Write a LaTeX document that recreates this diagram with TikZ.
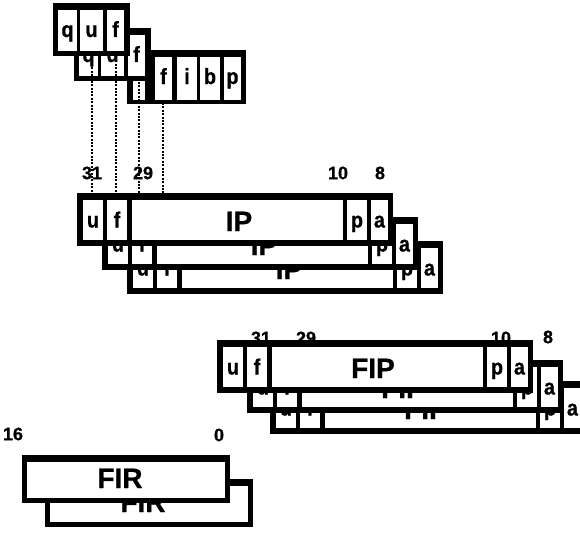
\documentclass[tikz,border=0pt]{standalone}
\usepackage{fontspec}
\setmainfont{Liberation Sans}
\newfontfamily\cellfont{Liberation Sans}[FakeStretch=0.9, FakeBold=0.8]
\newfontfamily\bigfont{Liberation Sans}[FakeBold=0.8]
\tikzset{
  celltxt/.style={anchor=base, inner sep=0pt, font=\cellfont\bfseries\fontsize{22}{22}\selectfont},
  bigtxt/.style={anchor=base, inner sep=0pt, font=\bigfont\bfseries\fontsize{28}{28}\selectfont},
  numtxt/.style={anchor=center, inner sep=0pt, font=\bigfont\bfseries\fontsize{18}{18}\selectfont},
  frame/.style={fill=black},
  cell/.style={fill=white},
  bitline/.style={line width=2pt, dash pattern=on 2pt off 1.4pt},
}
% wide register: name, x, y, big text, big text centre (relative x)
\newcommand\wreg[5]{%
  \fill[frame] (#2,#3) rectangle ++(316,53);
  \fill[cell] (#2+6,#3+7) rectangle (#2+26,#3+47);
  \fill[cell] (#2+30,#3+7) rectangle (#2+50,#3+47);
  \fill[cell] (#2+55,#3+7) rectangle (#2+266,#3+47);
  \fill[cell] (#2+270,#3+7) rectangle (#2+290,#3+47);
  \fill[cell] (#2+294,#3+7) rectangle (#2+311,#3+47);
  \node[celltxt] (#1u) at (#2+16,#3+34.5) {u};
  \node[celltxt] (#1f) at (#2+40,#3+34.5) {f};
  \node[bigtxt] (#1n) at (#2+#5,#3+38) {#4};
  \node[celltxt] (#1p) at (#2+280,#3+34.5) {p};
  \node[celltxt] (#1a) at (#2+302.5,#3+34.5) {a};
}
% small q u f register: name, x, y
\newcommand\qreg[3]{%
  \fill[frame] (#2,#3) rectangle ++(77,53);
  \fill[cell] (#2+5,#3+7) rectangle (#2+24,#3+48);
  \fill[cell] (#2+27,#3+7) rectangle (#2+50,#3+48);
  \fill[cell] (#2+54,#3+7) rectangle (#2+71,#3+48);
  \node[celltxt] (#1q) at (#2+14.5,#3+34) {q};
  \node[celltxt] (#1u) at (#2+38.5,#3+34) {u};
  \node[celltxt] (#1f) at (#2+62.5,#3+34) {f};
}
% FIR register: name, x, y
\newcommand\firreg[3]{%
  \fill[frame] (#2,#3) rectangle ++(208,48);
  \fill[cell] (#2+5,#3+7) rectangle (#2+203,#3+43);
  \node[bigtxt] (#1n) at (#2+98,#3+33) {FIR};
}
\begin{document}
\begin{tikzpicture}[x=1pt,y=-1pt]
\useasboundingbox (0,0) rectangle (580,535);
\clip (0,0) rectangle (580,535);
\fill[white] (0,0) rectangle (580,535);
% bit numbers
\node[numtxt] (ip31) at (92,173) {31};
\node[numtxt] (ip29) at (143,173) {29};
\node[numtxt] (ip10) at (338,173) {10};
\node[numtxt] (ip8) at (380,173) {8};
\node[numtxt] (fip31) at (261,338) {31};
\node[numtxt] (fip29) at (306,338) {29};
\node[numtxt] (fip10) at (501,338) {10};
\node[numtxt] (fip8) at (548,337) {8};
\node[numtxt] (fir16) at (13,434) {16};
\node[numtxt] (fir0) at (219,435) {0};
% top cluster
\fill[frame] (127,50) rectangle (246,104);
\fill[cell] (133,57) rectangle (145,100);
\fill[cell] (155,57) rectangle (172,100);
\fill[cell] (177,57) rectangle (197,100);
\fill[cell] (200,57) rectangle (220,100);
\fill[cell] (224,57) rectangle (241,100);
\node[celltxt] (cf) at (163.5,84) {f};
\node[celltxt] (ci) at (187,84) {i};
\node[celltxt] (cb) at (210,84) {b};
\node[celltxt] (cp) at (232.5,84) {p};
\qreg{qb}{74}{28}
\qreg{qa}{53}{3}
% IP stack
\wreg{ipc}{127}{241}{IP}{162}
\wreg{ipb}{102}{217}{IP}{162}
\wreg{ipa}{77}{193}{IP}{162}
% FIP stack
\wreg{fipc}{270}{381}{FIP}{156}
\wreg{fipb}{247}{360}{FIP}{156}
\wreg{fipa}{217}{340}{FIP}{156}
% FIR stack
\firreg{firb}{45}{479}
\firreg{fira}{22}{455}
% dotted bit lines
\coordinate (s1) at (92,57);
\coordinate (s2) at (116,57);
\coordinate (s3) at (139,82);
\coordinate (s4) at (163,103);
\coordinate (e1) at (92,193);
\coordinate (e2) at (116,193);
\coordinate (e3) at (139,193);
\coordinate (e4) at (163,193);
\draw[bitline] (s1) -- (e1);
\draw[bitline] (s2) -- (e2);
\draw[bitline] (s3) -- (e3);
\draw[bitline] (s4) -- (e4);
\end{tikzpicture}
\end{document}
